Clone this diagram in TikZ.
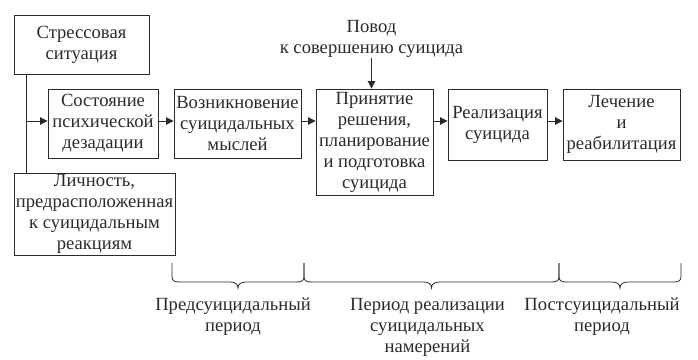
\documentclass[tikz,border=0pt]{standalone}
\usepackage{fontspec}
\setmainfont{Liberation Serif}
\usetikzlibrary{positioning,arrows.meta}
\definecolor{ink}{HTML}{2A2A2A}

\begin{document}
\begin{tikzpicture}[x=1pt,y=-1pt,
  stage/.style={draw=ink,line width=0.9pt,text=ink,align=center,inner sep=1pt,font=\fontsize{18.6}{21}\selectfont},
  lbl/.style={text=ink,align=center,inner sep=1pt,font=\fontsize{18.6}{21}\selectfont},
  flow/.style={draw=ink,line width=0.9pt,-{Triangle[length=7.5pt,width=7.5pt]}},
  periodbrace/.style={draw=ink,line width=0.8pt}]
  \useasboundingbox (0,0) rectangle (698,359);
  % stages of the process
  \node[stage,minimum width=135pt,minimum height=59pt] (stress) at (81.5,44.5) {Стрессовая\\ситуация};
  \node[stage,minimum width=110pt,minimum height=69pt] (state) at (103,123.5) {Состояние\\психической\\дезадации};
  \node[stage,minimum width=127pt,minimum height=69pt] (ideas) at (237.5,123.5) {Возникновение\\суицидальных\\мыслей};
  \node[stage,minimum width=117pt,minimum height=106pt] (decision) at (374.5,142) {Принятие\\решения,\\планирование\\и подготовка\\суицида};
  \node[stage,minimum width=99pt,minimum height=71pt] (real) at (497.5,124.5) {Реализация\\суицида};
  \node[stage,minimum width=117pt,minimum height=71pt] (treat) at (621.5,124.5) {Лечение\\и\\реабилитация};
  \node[stage,minimum width=161pt,minimum height=82pt] (person) at (94.5,214) {Личность,\\предрасположенная\\к суицидальным\\реакциям};
  \node[lbl] (cause) at (371.5,38.5) {Повод\\к совершению суицида};
  % connectors
  \coordinate (fork) at (26,121);
  \draw[draw=ink,line width=0.9pt] (fork |- stress.south) -- (fork |- person.north);
  \draw[flow] (fork) -- (fork -| state.west);
  \draw[flow] ([yshift=2.5pt]state.east) -- ([yshift=2.5pt]state.east -| ideas.west);
  \draw[flow] ([yshift=2.5pt]ideas.east) -- ([yshift=2.5pt]ideas.east -| decision.west);
  \draw[flow] ([yshift=3.5pt]real.west -| decision.east) -- ([yshift=3.5pt]real.west);
  \draw[flow] ([yshift=3.5pt]real.east) -- ([yshift=3.5pt]real.east -| treat.west);
  \draw[flow] (cause.south) -- (cause.south |- decision.north);
  % periods
  \foreach \a/\b in {172/304,304/559,559/681}{
    \pgfmathsetmacro\m{(\a+\b)/2}
    \draw[periodbrace] (\a,263) -- (\a,276) .. controls (\a,281) and ({\a+2},282) .. ({\a+8},282)
      -- ({\m-8},282) .. controls ({\m-3},282) and (\m,284) .. (\m,288)
      .. controls (\m,284) and ({\m+3},282) .. ({\m+8},282)
      -- ({\b-8},282) .. controls ({\b-2},282) and (\b,281) .. (\b,276) -- (\b,263);
  }
  \node[lbl] (pre) at (233,317) {Предсуицидальный\\период};
  \node[lbl] (impl) at (427.5,327) {Период реализации\\суицидальных\\намерений};
  \node[lbl] (post) at (602,317) {Постсуицидальный\\период};
\end{tikzpicture}
\end{document}
